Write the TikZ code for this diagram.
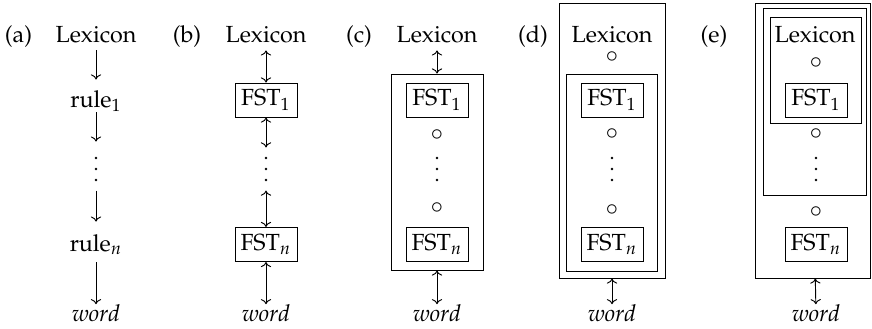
\documentclass[tikz,border=0pt]{standalone}
\usepackage[T1]{fontenc}
\usepackage{mathpazo}
\usetikzlibrary{arrows.meta,fit}
\tikzset{
  txt/.style={inner sep=0pt, text height=7pt, text depth=0pt, anchor=base},
  fstbox/.style={draw, inner sep=0pt, minimum width=26.6pt, minimum height=14.6pt},
  framebox/.style={draw, inner sep=0pt},
  vd/.style={inner sep=0pt, minimum width=3pt, minimum height=10.3pt},
  comp/.style={inner sep=0pt, text height=4.6pt, text depth=0pt, anchor=base},
  tip/.tip={To[length=2.2pt,width=4.4pt]},
  arr/.style={-tip},
  darr/.style={tip-tip},
}
\begin{document}
\begin{tikzpicture}[x=0.429pt, y=-0.429pt, line width=0.4pt]
\useasboundingbox (0,0) rectangle (872,328);

% ---------- (a)
\node[txt] (la) at (18.5,42) {(a)};
\node[txt] (lexa) at (96,42) {Lexicon};
\node[txt] (r1a) at (96,107) {rule$_1$};
\node[vd] (da) at (96,169) {};
\node[txt] (rna) at (96,251) {rule$_n$};
\node[txt] (worda) at (96,321) {\textit{word}};
\draw[arr, shorten <=3.4pt, shorten >=4.6pt] (lexa) -- (r1a);
\draw[arr, shorten <=2.1pt, shorten >=6.4pt] (r1a) -- (da);
\draw[arr, shorten <=3.9pt, shorten >=5.4pt] (da) -- (rna);
\draw[arr, shorten <=4.7pt] (rna) -- (worda);

% ---------- (b)
\node[txt] (lb) at (187,42) {(b)};
\node[txt] (lexb) at (266,42) {Lexicon};
\node[fstbox] (f1b) at (266,100) {FST$_1$};
\node[vd] (db) at (266,169) {};
\node[fstbox] (fnb) at (266,244.5) {FST$_n$};
\node[txt] (wordb) at (266,321) {\textit{word}};
\draw[darr, shorten <=3.4pt] (lexb) -- (f1b);
\draw[darr, shorten >=3.9pt] (f1b) -- (db);
\draw[darr, shorten <=3.9pt] (db) -- (fnb);
\draw[darr] (fnb) -- (wordb);

% ---------- (c)
\node[txt] (lc) at (359,42) {(c)};
\node[txt] (lexc) at (437,42) {Lexicon};
\node[fstbox] (f1c) at (437,100) {FST$_1$};
\node[comp] (o1c) at (437,140) {$\circ$};
\node[vd] (dc) at (437,169) {};
\node[comp] (o2c) at (437,213) {$\circ$};
\node[fstbox] (fnc) at (437,244.5) {FST$_n$};
\coordinate (c1) at (391,74);
\coordinate (c2) at (483,270);
\node[framebox, fit=(c1)(c2)] (cbox) {};
\node[txt] (wordc) at (437,321) {\textit{word}};
\draw[darr, shorten <=3.4pt] (lexc) -- (cbox);
\draw[darr] (cbox) -- (wordc);

% ---------- (d)
\node[txt] (ld) at (533,42) {(d)};
\node[txt] (lexd) at (612,42) {Lexicon};
\node[comp] (o1d) at (612,62) {$\circ$};
\node[fstbox] (f1d) at (612,100) {FST$_1$};
\node[comp] (o2d) at (612,139) {$\circ$};
\node[vd] (dd) at (612,169) {};
\node[comp] (o3d) at (612,215) {$\circ$};
\node[fstbox] (fnd) at (612,244.5) {FST$_n$};
\coordinate (d1) at (566,74);
\coordinate (d2) at (657,271);
\coordinate (d3) at (559,3);
\coordinate (d4) at (665,278);
\node[framebox, fit=(d1)(d2)] (din) {};
\node[framebox, fit=(d3)(d4)] (dout) {};
\node[txt] (wordd) at (612,321) {\textit{word}};
\draw[darr] (dout) -- (wordd);

% ---------- (e)
\node[txt] (le) at (714,42) {(e)};
\node[txt] (lexe) at (815,42) {Lexicon};
\node[comp] (o1e) at (816,68) {$\circ$};
\node[fstbox] (f1e) at (816,100) {FST$_1$};
\node[comp] (o2e) at (816,139) {$\circ$};
\node[vd] (de) at (816,169) {};
\node[comp] (o3e) at (816,217) {$\circ$};
\node[fstbox] (fne) at (816,244.5) {FST$_n$};
\coordinate (e1) at (770,17);
\coordinate (e2) at (861,123);
\coordinate (e3) at (763,8);
\coordinate (e4) at (866,195);
\coordinate (e5) at (755,3);
\coordinate (e6) at (870,278);
\node[framebox, fit=(e1)(e2)] (ein) {};
\node[framebox, fit=(e3)(e4)] (emid) {};
\node[framebox, fit=(e5)(e6)] (eout) {};
\node[txt] (worde) at (816,321) {\textit{word}};
\draw[darr] (eout) -- (worde);

% vertical dots
\foreach \n in {da,db,dc,dd,de}{
  \fill (\n.center) circle (0.6pt)
        ([yshift=4.7pt]\n.center) circle (0.6pt)
        ([yshift=-4.7pt]\n.center) circle (0.6pt);
}
\end{tikzpicture}
\end{document}
